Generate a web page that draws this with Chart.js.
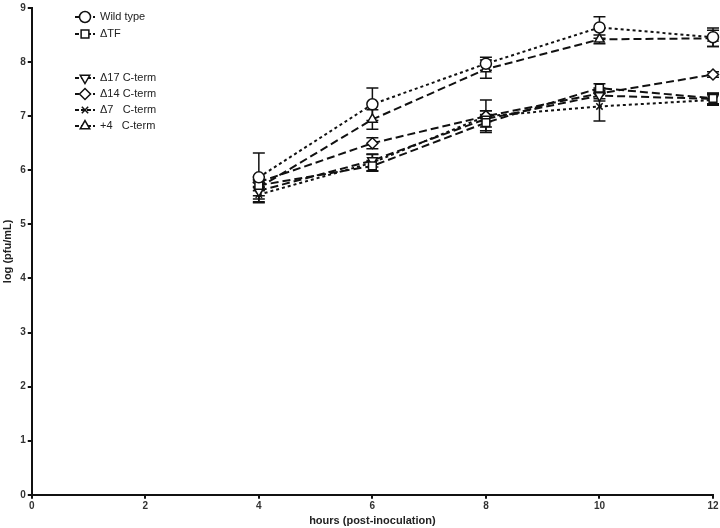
<!DOCTYPE html>
<html>
<head>
<meta charset="utf-8">
<script src="https://cdn.jsdelivr.net/npm/chart.js@4"></script>
<style>
    html, body { margin: 0; padding: 0; background: #fff; }
    #wrap { width: 720px; height: 528px; position: relative; }
</style>
</head>
<body>
<div id="wrap"><canvas id="growthChart"></canvas></div>
<script>
// Data
const hours = [4, 6, 8, 10, 12];
const seriesNames = ['Wild type', '\u0394TF', '\u039417 C-term', '\u039414 C-term', '\u03947   C-term', '+4   C-term'];

const wildType = [5.87, 7.22, 7.97, 8.64, 8.46];
const deltaTF = [5.72, 6.08, 6.88, 7.52, 7.33];
const delta17 = [5.62, 6.18, 6.95, 7.38, 7.32];
const delta14 = [5.78, 6.50, 7.00, 7.42, 7.77];
const delta7 = [5.55, 6.14, 7.00, 7.18, 7.30];
const plus4 = [5.68, 6.94, 7.87, 8.42, 8.44];

const wildTypeErr = [0.45, 0.30, 0.12, 0.20, 0.17];
const deltaTFErr = [0.10, 0.10, 0.15, 0.08, 0.10];
const delta17Err = [0.15, 0.12, 0.15, 0.10, 0.10];
const delta14Err = [0.10, 0.10, 0.10, 0.10, 0.05];
const delta7Err = [0.15, 0.15, 0.30, 0.27, 0.10];
const plus4Err = [0.15, 0.18, 0.17, 0.08, 0.15];

const xTicks = [0, 2, 4, 6, 8, 10, 12];
const yTicks = [0, 1, 2, 3, 4, 5, 6, 7, 8, 9];

const FONT = "'Liberation Sans', Arial, sans-serif";

// Styles per series (marker, dash)
const styles = [
    { pointStyle: 'circle', rotation: 0, dash: [3, 3], radius: 5.5 },
    { pointStyle: 'rect', rotation: 0, dash: [8, 4], radius: 5.5 },
    { pointStyle: 'triangle', rotation: 180, dash: [8, 4], radius: 5.5 },
    { pointStyle: 'rectRot', rotation: 0, dash: [8, 4], radius: 5.5 },
    { pointStyle: 'crossRot', rotation: 0, dash: [3, 3], radius: 4.5 },
    { pointStyle: 'triangle', rotation: 0, dash: [8, 4], radius: 5.5 }
];

const values = [wildType, deltaTF, delta17, delta14, delta7, plus4];
const errors = [wildTypeErr, deltaTFErr, delta17Err, delta14Err, delta7Err, plus4Err];

const datasets = values.map((vals, i) => ({
    label: seriesNames[i],
    data: hours.map((h, j) => ({ x: h, y: vals[j] })),
    errors: errors[i],
    borderColor: '#111',
    backgroundColor: '#fff',
    borderWidth: 2,
    borderDash: styles[i].dash,
    pointStyle: styles[i].pointStyle,
    rotation: styles[i].rotation,
    pointRadius: styles[i].radius,
    pointBorderWidth: 1.5,
    pointBorderColor: '#111',
    pointBackgroundColor: '#fff',
    tension: 0,
    fill: false,
    clip: false
}));

// Error bars drawn through the scales
const errorBars = {
    id: 'errorBars',
    beforeDatasetsDraw(chart) {
        const ctx = chart.ctx;
        const ys = chart.scales.y;
        ctx.save();
        ctx.strokeStyle = '#111';
        ctx.lineWidth = 1.5;
        chart.data.datasets.forEach((ds, i) => {
            const meta = chart.getDatasetMeta(i);
            meta.data.forEach((pt, j) => {
                const v = ds.data[j].y;
                const e = ds.errors[j];
                const top = ys.getPixelForValue(v + e);
                const bot = ys.getPixelForValue(v - e);
                ctx.beginPath();
                ctx.moveTo(pt.x, top);
                ctx.lineTo(pt.x, bot);
                ctx.moveTo(pt.x - 6, top);
                ctx.lineTo(pt.x + 6, top);
                ctx.moveTo(pt.x - 6, bot);
                ctx.lineTo(pt.x + 6, bot);
                ctx.stroke();
            });
        });
        ctx.restore();
    }
};

// Legend with the gap after the second entry
const sideLegend = {
    id: 'sideLegend',
    afterDraw(chart) {
        const ctx = chart.ctx;
        const rows = [17, 34, 78, 94, 110, 126];
        const mx = 85;
        ctx.save();
        chart.data.datasets.forEach((ds, i) => {
            const y = rows[i];
            ctx.strokeStyle = '#111';
            ctx.lineWidth = 2;
            ctx.setLineDash([4, 2]);
            ctx.beginPath();
            ctx.moveTo(mx - 10, y);
            ctx.lineTo(mx + 10, y);
            ctx.stroke();
            ctx.setLineDash([]);
            ctx.lineWidth = 1.5;
            ctx.fillStyle = '#fff';
            Chart.helpers.drawPoint(ctx, {
                pointStyle: ds.pointStyle,
                rotation: ds.rotation,
                radius: ds.pointRadius,
                borderWidth: 1.5
            }, mx, y);
            ctx.fillStyle = '#222';
            ctx.font = '11px ' + FONT;
            ctx.textBaseline = 'middle';
            ctx.fillText(ds.label, mx + 15, y);
        });
        ctx.restore();
    }
};

const ctx = document.getElementById('growthChart').getContext('2d');
new Chart(ctx, {
    type: 'line',
    data: { datasets },
    options: {
        responsive: true,
        maintainAspectRatio: false,
        animation: false,
        layout: { padding: { top: -2, right: 4, left: 1, bottom: 0 } },
        plugins: {
            legend: { display: false },
            tooltip: { enabled: false }
        },
        scales: {
            x: {
                type: 'linear',
                min: 0,
                max: 12,
                afterBuildTicks: (axis) => { axis.ticks = xTicks.map(v => ({ value: v })); },
                grid: { display: true, drawOnChartArea: false, drawTicks: true, tickLength: 4, color: '#111', lineWidth: 2 },
                border: { display: true, color: '#111', width: 2 },
                ticks: { color: '#333', font: { family: FONT, size: 10, weight: 'bold' }, padding: 1, maxRotation: 0 },
                title: { display: true, text: 'hours (post-inoculation)', color: '#222', font: { family: FONT, size: 11, weight: 'bold' }, padding: { top: 2, bottom: 0 } }
            },
            y: {
                type: 'linear',
                min: 0,
                max: 9,
                afterBuildTicks: (axis) => { axis.ticks = yTicks.map(v => ({ value: v })); },
                grid: { display: true, drawOnChartArea: false, drawTicks: true, tickLength: 4, color: '#111', lineWidth: 2 },
                border: { display: true, color: '#111', width: 2 },
                ticks: { color: '#333', font: { family: FONT, size: 10, weight: 'bold' }, padding: 2 },
                title: { display: true, text: 'log (pfu/mL)', color: '#222', font: { family: FONT, size: 11, weight: 'bold' }, padding: { top: 0, bottom: 4 } }
            }
        }
    },
    plugins: [errorBars, sideLegend]
});
</script>
</body>
</html>
